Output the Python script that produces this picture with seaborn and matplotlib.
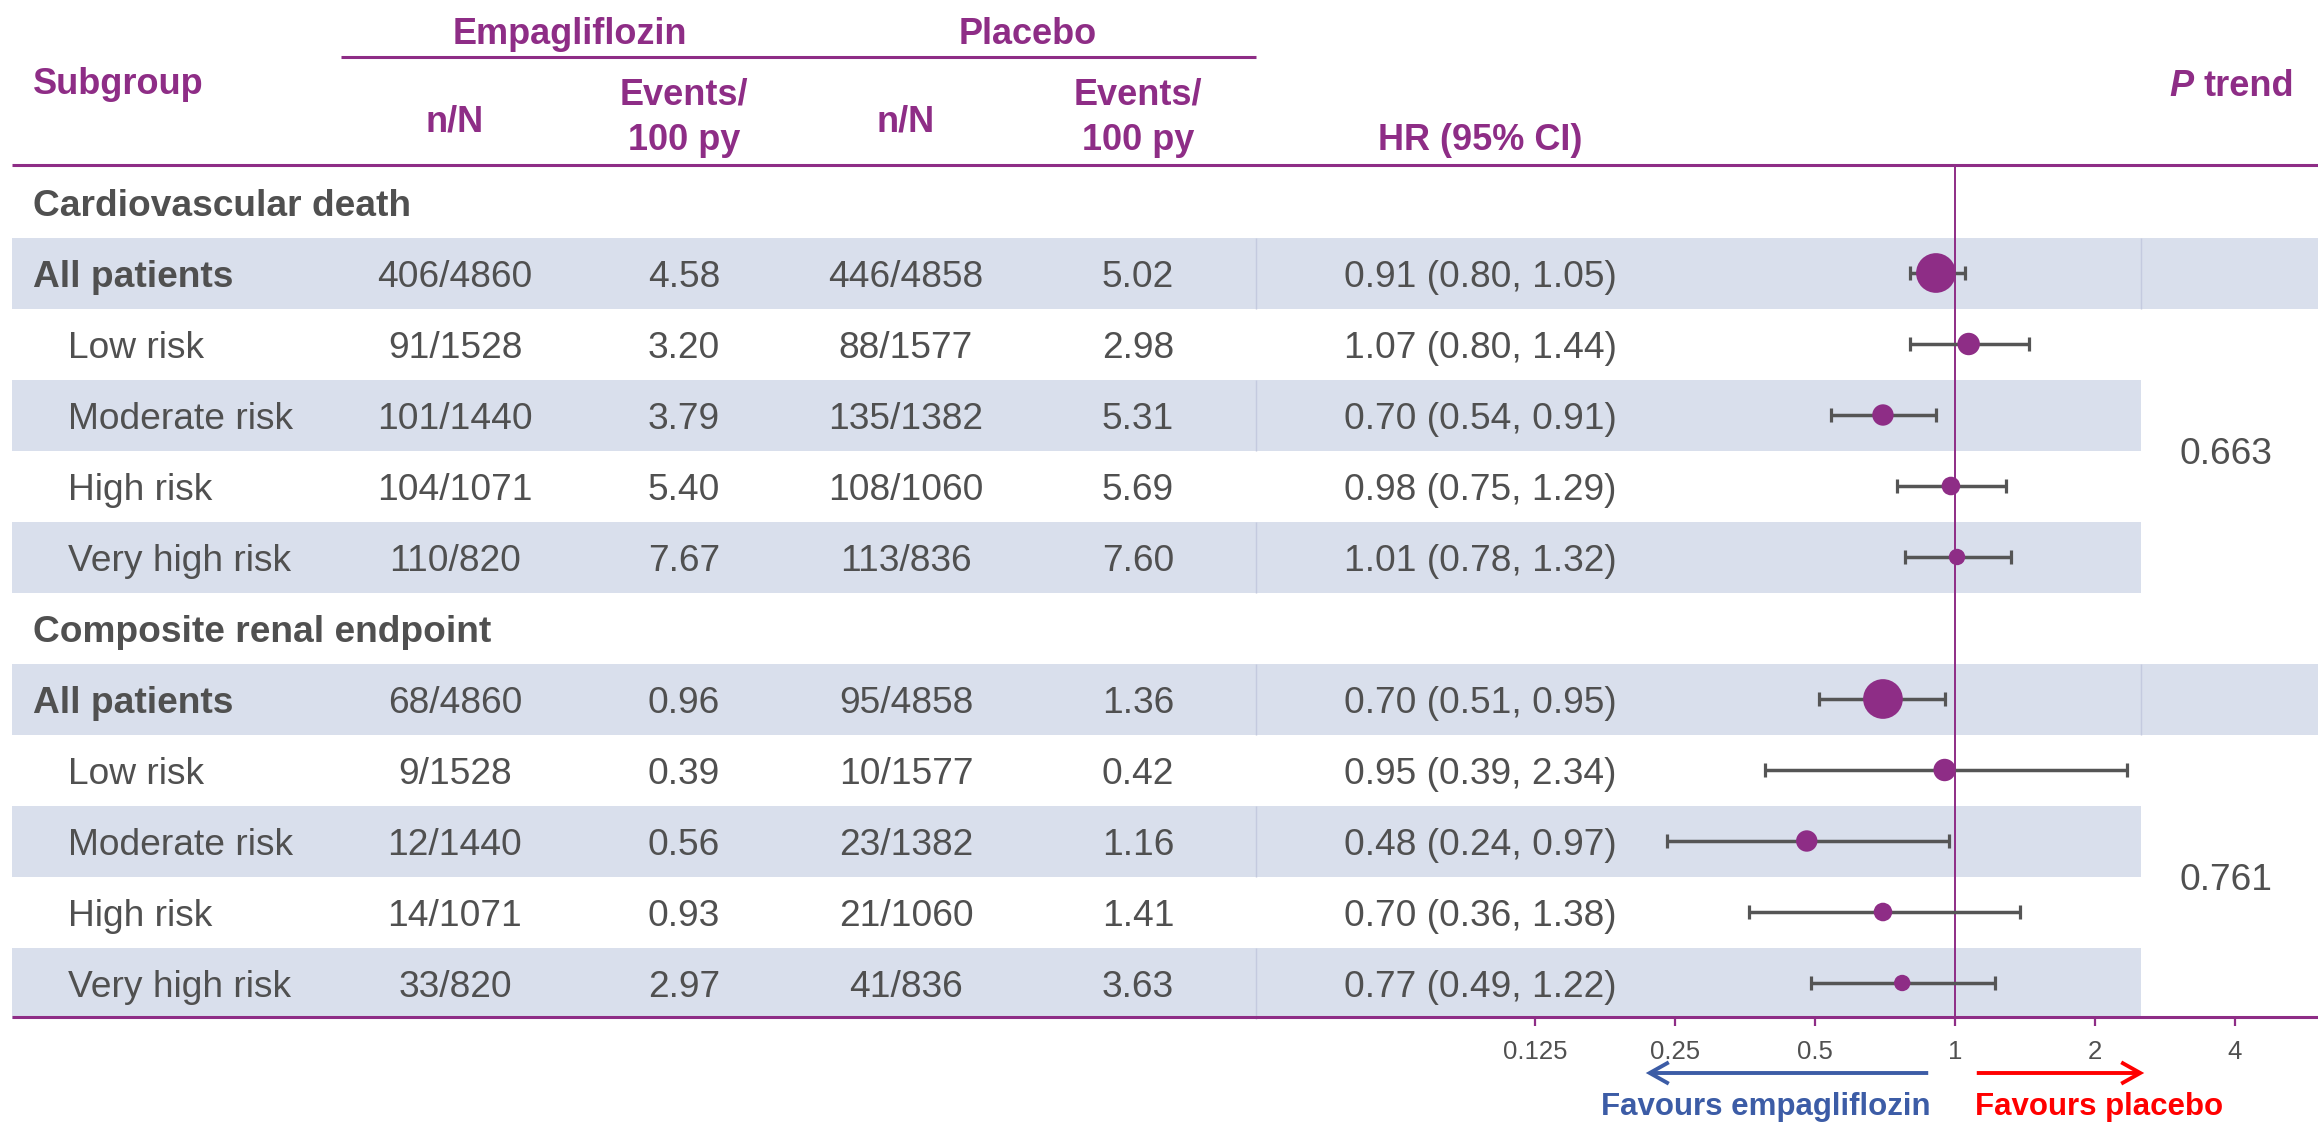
import matplotlib
matplotlib.use("Agg")
import numpy as np
import pandas as pd
import matplotlib.pyplot as plt
from matplotlib.patches import Rectangle, FancyArrowPatch
import seaborn as sns

# ---- data -----------------------------------------------------------------
endpoints = ["Cardiovascular death", "Composite renal endpoint"]
subgroups = ["All patients", "Low risk", "Moderate risk", "High risk", "Very high risk"]

emp_n = [[406, 91, 101, 104, 110], [68, 9, 12, 14, 33]]
emp_N = [[4860, 1528, 1440, 1071, 820], [4860, 1528, 1440, 1071, 820]]
emp_rate = [[4.58, 3.20, 3.79, 5.40, 7.67], [0.96, 0.39, 0.56, 0.93, 2.97]]
pla_n = [[446, 88, 135, 108, 113], [95, 10, 23, 21, 41]]
pla_N = [[4858, 1577, 1382, 1060, 836], [4858, 1577, 1382, 1060, 836]]
pla_rate = [[5.02, 2.98, 5.31, 5.69, 7.60], [1.36, 0.42, 1.16, 1.41, 3.63]]
hr = [[0.91, 1.07, 0.70, 0.98, 1.01], [0.70, 0.95, 0.48, 0.70, 0.77]]
ci_lo = [[0.80, 0.80, 0.54, 0.75, 0.78], [0.51, 0.39, 0.24, 0.36, 0.49]]
ci_hi = [[1.05, 1.44, 0.91, 1.29, 1.32], [0.95, 2.34, 0.97, 1.38, 1.22]]
p_trend = ["0.663", "0.761"]
hr_ticks = [0.125, 0.25, 0.5, 1, 2, 4]

# ---- tidy table -----------------------------------------------------------
block = len(subgroups) + 1
recs = []
for e, ep in enumerate(endpoints):
    for i, sg in enumerate(subgroups):
        recs.append(dict(endpoint=ep, subgroup=sg, idx=i, row=e * block + 1 + i,
                         emp_n=emp_n[e][i], emp_N=emp_N[e][i], emp_rate=emp_rate[e][i],
                         pla_n=pla_n[e][i], pla_N=pla_N[e][i], pla_rate=pla_rate[e][i],
                         hr=hr[e][i], lo=ci_lo[e][i], hi=ci_hi[e][i]))
df = pd.DataFrame(recs)
df["n_total"] = df["emp_N"] + df["pla_N"]

# ---- style ----------------------------------------------------------------
sns.set_theme(style="white")
plt.rcParams["font.family"] = ["Liberation Sans", "DejaVu Sans"]

PURPLE = "#8E2D86"
GREY = "#505050"
BAND = "#D9DFEC"
SEP = "#C4CADF"
CI_COL = "#555555"
BLUE = "#3C5CA6"
RED = "#FF0000"
FS = 26.7
FS_HEAD = 26
FS_TICK = 18.5
FS_FAV = 22.5

W, H, DPI = 2318, 1123, 100
fig = plt.figure(figsize=(W / DPI, H / DPI), dpi=DPI, facecolor="white")

ROW_TOP, ROW_H = 202, 71
TXT_DY = 0.06   # text baseline nudge, in rows
HEAD_DY = 6     # header nudge, in pixels


def row_of(px):
    return (px - ROW_TOP) / ROW_H


ylim = (row_of(H), row_of(0))

# table layer in pixel columns, rows in row units
ax = fig.add_axes([0, 0, 1, 1])
ax.set_xlim(0, W)
ax.set_ylim(*ylim)
ax.axis("off")

# forest layer: log2 hazard-ratio scale
F_LEFT, X_ONE, OCT = 1257, 1955, 140
XLIM = (2 ** ((F_LEFT - X_ONE) / OCT), 2 ** ((W - X_ONE) / OCT))
fx = fig.add_axes([F_LEFT / W, 0, (W - F_LEFT) / W, 1])
fx.set_xscale("log", base=2)
fx.set_xlim(*XLIM)
fx.set_ylim(*ylim)
fx.axis("off")

# ---- shaded bands ---------------------------------------------------------
for _, r in df.iterrows():
    if r["idx"] % 2 == 0:
        right = W if r["idx"] == 0 else 2141
        ax.add_patch(Rectangle((12, r["row"] - 0.5), right - 12, 1.0,
                               facecolor=BAND, edgecolor="none", zorder=0))
        ax.vlines(1256, r["row"] - 0.5, r["row"] + 0.5, color=SEP, lw=1, zorder=1)
        if r["idx"] == 0:
            ax.vlines(2141, r["row"] - 0.5, r["row"] + 0.5, color=SEP, lw=1, zorder=1)

# ---- header ---------------------------------------------------------------
hkw = dict(color=PURPLE, fontsize=FS_HEAD, fontweight="bold", va="center")
ax.text(570, row_of(28 + HEAD_DY), "Empagliflozin", ha="center", **hkw)
ax.text(1028, row_of(28 + HEAD_DY), "Placebo", ha="center", **hkw)
ax.hlines(row_of(57), 341, 1256, color=PURPLE, lw=2.2)
ax.text(33, row_of(78 + HEAD_DY), "Subgroup", ha="left", **hkw)
for cx in (455, 906):
    ax.text(cx, row_of(116 + HEAD_DY), "n/N", ha="center", **hkw)
for cx in (684, 1138):
    ax.text(cx, row_of(89 + HEAD_DY), "Events/", ha="center", **hkw)
    ax.text(cx, row_of(134 + HEAD_DY), "100 py", ha="center", **hkw)
ax.text(1480, row_of(135 + HEAD_DY), "HR (95% CI)", ha="center", **hkw)
t_trend = ax.text(2294, row_of(80 + HEAD_DY), "trend", ha="right", **hkw)
fig.canvas.draw()
bb = t_trend.get_window_extent(renderer=fig.canvas.get_renderer())
ax.text(bb.x0 - 10, row_of(80 + HEAD_DY), "P", ha="right", fontstyle="italic", **hkw)

ax.hlines(row_of(165), 12, W, color=PURPLE, lw=2.2, zorder=3)
ax.hlines(row_of(1017), 12, W, color=PURPLE, lw=2.2, zorder=3)

# ---- table body -----------------------------------------------------------
tkw = dict(color=GREY, fontsize=FS, va="center")
for e, ep in enumerate(endpoints):
    ax.text(33, e * block + TXT_DY, ep, ha="left", fontweight="bold", **tkw)
    rows = df.loc[(df["endpoint"] == ep) & (df["idx"] > 0), "row"]
    ax.text(2226, rows.mean() + TXT_DY, p_trend[e], ha="center", **tkw)

for _, r in df.iterrows():
    y = r["row"] + TXT_DY
    if r["idx"] == 0:
        ax.text(33, y, r["subgroup"], ha="left", fontweight="bold", **tkw)
    else:
        ax.text(68, y, r["subgroup"], ha="left", **tkw)
    ax.text(455, y, f"{r['emp_n']}/{r['emp_N']}", ha="center", **tkw)
    ax.text(684, y, f"{r['emp_rate']:.2f}", ha="center", **tkw)
    ax.text(906, y, f"{r['pla_n']}/{r['pla_N']}", ha="center", **tkw)
    ax.text(1138, y, f"{r['pla_rate']:.2f}", ha="center", **tkw)
    ax.text(1480, y, f"{r['hr']:.2f} ({r['lo']:.2f}, {r['hi']:.2f})", ha="center", **tkw)

# ---- forest marks ---------------------------------------------------------
fx.vlines(1, row_of(165), row_of(1017), color=PURPLE, lw=1.4, zorder=2)
fx.errorbar(df["hr"], df["row"],
            xerr=[df["hr"] - df["lo"], df["hi"] - df["hr"]],
            fmt="none", ecolor=CI_COL, elinewidth=2.5, capsize=5.2, capthick=2.3,
            zorder=3)
sizes = (0.29 * np.sqrt(df["n_total"].to_numpy())) ** 2
sns.scatterplot(data=df, x="hr", y="row", s=sizes, color=PURPLE,
                edgecolor="none", linewidth=0, legend=False, ax=fx, zorder=4)
fx.set_xlim(*XLIM)
fx.set_ylim(*ylim)
fx.axis("off")

# axis ticks and labels
fx.vlines(hr_ticks, row_of(1017), row_of(1026), color=PURPLE, lw=1.6)
for t in hr_ticks:
    fx.text(t, row_of(1052), f"{t:g}", ha="center", va="center",
            fontsize=FS_TICK, color=GREY)

# ---- direction arrows -----------------------------------------------------
ya = row_of(1073)
for x0, x1, col in ((1931, 1643, BLUE), (1974, 2147, RED)):
    ax.add_patch(FancyArrowPatch((x0, ya), (x1, ya),
                                 arrowstyle="->,head_length=1.37,head_width=0.77",
                                 mutation_scale=10, color=col, lw=2.8,
                                 joinstyle="miter", capstyle="butt"))
ax.text(1931, row_of(1107), "Favours empagliflozin", ha="right", va="center",
        color=BLUE, fontsize=FS_FAV, fontweight="bold")
ax.text(1975, row_of(1107), "Favours placebo", ha="left", va="center",
        color=RED, fontsize=FS_FAV, fontweight="bold")

fig.savefig("out.png", dpi=DPI, facecolor="white")
